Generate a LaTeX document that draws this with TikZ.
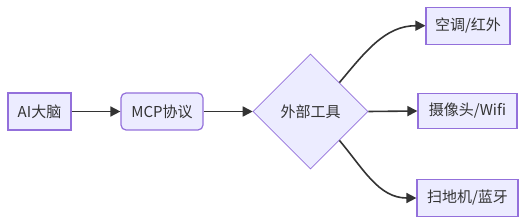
\documentclass[tikz,border=0pt]{standalone}
\usepackage{fontspec}
\setmainfont{Noto Sans CJK SC}
\usetikzlibrary{shapes.geometric,arrows.meta}
\definecolor{nodefill}{HTML}{ECECFF}
\definecolor{nodeline}{HTML}{9370DB}
\definecolor{txt}{HTML}{333333}
\begin{document}
\begin{tikzpicture}[x=1pt,y=-1pt,
  box/.style={draw=nodeline, fill=nodefill, line width=1.2pt, text=txt,
    font=\fontsize{15}{18}\selectfont, inner sep=0pt},
  rbox/.style={box, rounded corners=5pt},
  dbox/.style={draw=nodeline, fill=nodefill, line width=0.6pt, text=txt,
    font=\fontsize{15}{18}\selectfont, diamond, inner sep=0pt, aspect=1,
    minimum width=115pt, minimum height=115pt},
  link/.style={draw=txt, line width=1.6pt, -{Triangle[length=10pt,width=10pt]}}
]
\useasboundingbox (0,0) rectangle (526,224);
\node[box, minimum width=63pt, minimum height=37pt] (a) at (39.5,111.5) {AI大脑};
\node[rbox, minimum width=82pt, minimum height=37pt] (m) at (162,111.5) {MCP协议};
\node[dbox] (d) at (310.5,111.5) {外部工具};
\node[box, minimum width=84pt, minimum height=37pt] (t1) at (468,25.7) {空调/红外};
\node[box, minimum width=99pt, minimum height=35pt] (t2) at (467.5,111) {摄像头/Wifi};
\node[box, minimum width=101pt, minimum height=37pt] (t3) at (467.5,198) {扫地机/蓝牙};
\draw[link] (a) -- (m);
\draw[link] (m) -- (d);
\draw[link] (d.north east) to[out=50,in=180] (t1.west);
\draw[link] (d.east) -- (t2.west);
\draw[link] (d.south east) to[out=-50,in=180] (t3.west);
\end{tikzpicture}
\end{document}
